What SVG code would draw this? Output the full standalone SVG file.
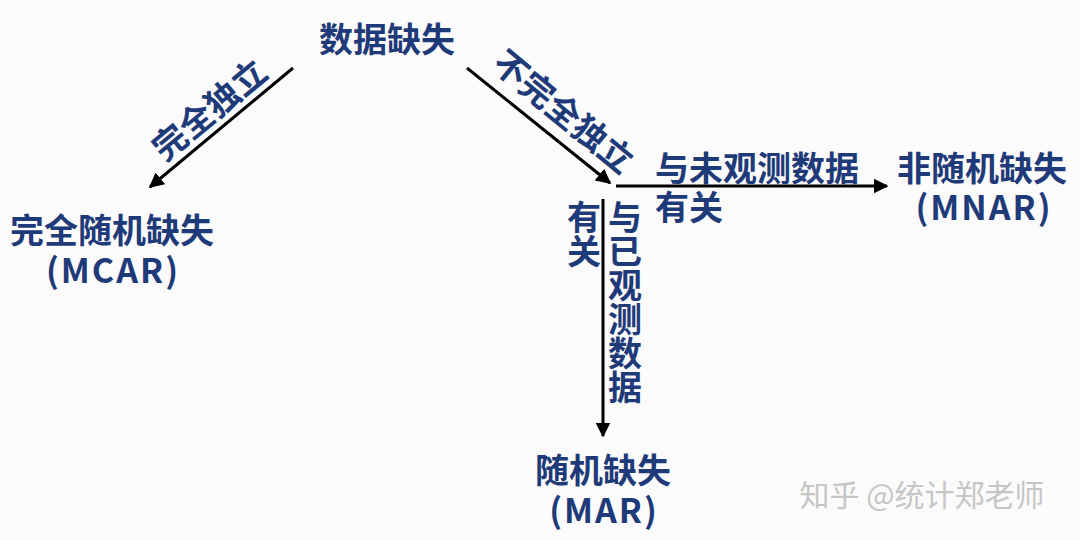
<svg xmlns="http://www.w3.org/2000/svg" width="1080" height="540" viewBox="0 0 1080 540">
<defs>
<style>
.t{font-family:"Noto Sans CJK SC","Noto Sans",sans-serif;font-weight:700;font-size:34px;fill:#1F3A78;text-anchor:middle;dominant-baseline:central}
.l{letter-spacing:2px}
.v{writing-mode:vertical-rl;text-orientation:upright}
.c{stroke:#000;stroke-width:3;fill:none;marker-end:url(#ah)}
.wm{font-family:"Noto Sans CJK SC","Noto Sans",sans-serif;font-size:30px;fill:#c6c6c6;text-anchor:middle;dominant-baseline:central}
</style>
<marker id="ah" viewBox="0 0 10 10" refX="9" refY="5" markerWidth="5" markerHeight="5" orient="auto" markerUnits="strokeWidth">
<path d="M0,0 L10,5 L0,10 z" fill="#000"/>
</marker>
</defs>
<rect width="1080" height="540" fill="#FBFBFB"/>
<g id="connectors">
<line class="c" x1="293" y1="68" x2="150" y2="187"/>
<line class="c" x1="467" y1="68" x2="610" y2="183"/>
<line class="c" x1="616" y1="186" x2="887" y2="186"/>
<line class="c" x1="603" y1="199" x2="603" y2="436"/>
</g>
<g id="labels">
<text class="t" transform="translate(208,108) rotate(-39.5)">完全独立</text>
<text class="t" transform="translate(565,110) rotate(39.5)">不完全独立</text>
<text class="t" x="757" y="166">与未观测数据</text>
<text class="t" x="689" y="205">有关</text>
<text class="t v" x="584" y="234">有关</text>
<text class="t v" x="625" y="302">与已观测数据</text>
</g>
<g id="n-root"><text class="t" x="387" y="37">数据缺失</text></g>
<g id="n-mcar"><text class="t" x="112" y="228">完全随机缺失</text><text class="t l" x="113" y="268">(MCAR)</text></g>
<g id="n-mnar"><text class="t" x="982" y="166">非随机缺失</text><text class="t l" x="984" y="205">(MNAR)</text></g>
<g id="n-mar"><text class="t" x="603" y="468">随机缺失</text><text class="t l" x="604" y="508">(MAR)</text></g>
<g id="watermark"><text class="wm" x="922" y="493">知乎 @统计郑老师</text></g>
</svg>
